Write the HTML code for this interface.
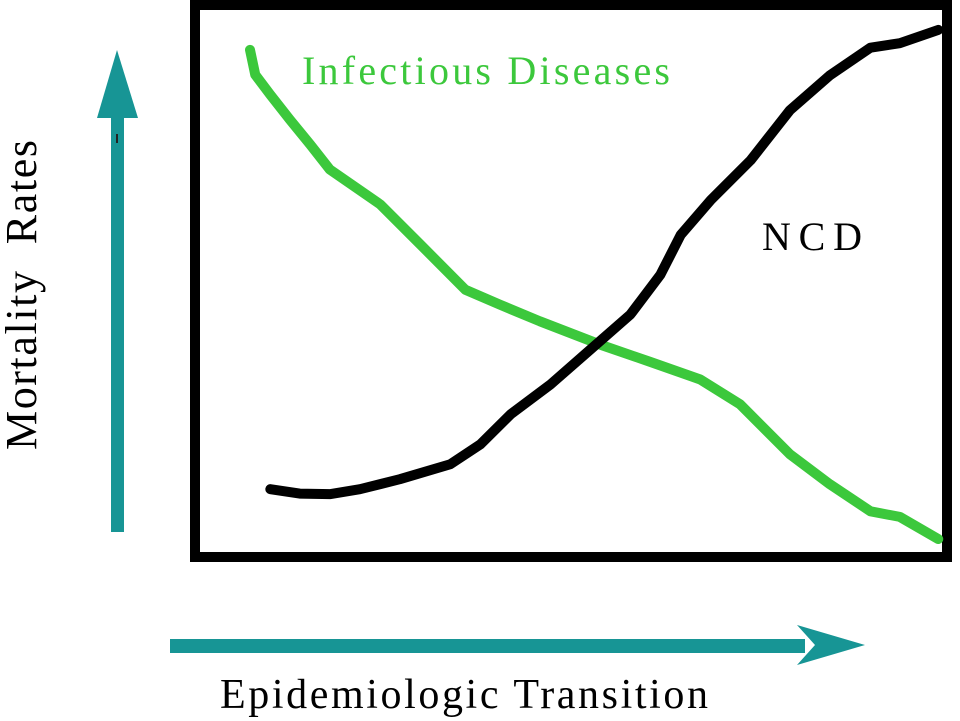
<!DOCTYPE html>
<html><head><meta charset="utf-8"><style>
html,body{margin:0;padding:0;background:#fff;width:960px;height:721px;overflow:hidden}
svg{display:block}
text{font-family:"Liberation Serif",serif}
</style></head><body>
<svg id="chart" width="960" height="721" viewBox="0 0 960 721">
<rect x="195" y="5" width="752" height="552" fill="none" stroke="#000" stroke-width="10"/>
<g>
<rect x="111" y="110" width="13" height="422" fill="#179595"/>
<polygon points="117,50 138,118 97,118" fill="#179595"/>
<line x1="117" y1="134" x2="117" y2="143" stroke="#222" stroke-width="2"/>
</g>
<g>
<rect x="170" y="639" width="635" height="14" fill="#179595"/>
<polygon points="865,645 797,625 815,645 797,665" fill="#179595"/>
</g>
<text x="36" y="450" font-size="44" transform="rotate(-90 36 450)" textLength="310">Mortality&#160; Rates</text>
<text x="220" y="708" font-size="42" textLength="488">Epidemiologic Transition</text>
<text x="302" y="84" font-size="40" fill="#3cc83c" textLength="368">Infectious Diseases</text>
<text x="762" y="250" font-size="40" fill="#000" textLength="100">NCD</text>
<g id="series"></g>
</svg>
<script>
// x positions in "transition progress" units (0-100), y in mortality units (0-100)
const infX = [0, 0.7, 2.7, 5.3, 8, 10.6, 17.3, 22.6, 28.6, 33.2, 38.5, 46.5, 53.1, 59.8, 65.1, 71.7, 77, 82.4, 86.3, 91.4];
const infY = [91, 86.5, 82.9, 78.4, 73.9, 69.4, 63.1, 55.9, 47.7, 45, 42, 37.8, 34.7, 31.5, 27, 18, 12.6, 7.7, 6.7, 2.7];
const ncdX = [2.7, 6.6, 10.6, 14.6, 19.9, 26.6, 30.6, 34.6, 39.9, 45.2, 50.5, 54.5, 57.2, 61.2, 66.5, 71.7, 77, 82.4, 86.3, 91.4];
const ncdY = [11.7, 10.9, 10.8, 11.7, 13.5, 16.2, 19.8, 25.2, 30.6, 36.9, 43.2, 50.4, 57.6, 63.9, 71.1, 80.1, 86.4, 91.4, 92.2, 94.6];
function sx(v){ return 250 + v * 7.53; }
function sy(v){ return 554 - v * 5.54; }
const g = document.getElementById('series');
function draw(xs, ys, color, name){
  const p = document.createElementNS('http://www.w3.org/2000/svg','polyline');
  p.setAttribute('points', xs.map((x,i)=>sx(x)+','+sy(ys[i])).join(' '));
  p.setAttribute('fill','none');
  p.setAttribute('stroke',color);
  p.setAttribute('stroke-width','10');
  p.setAttribute('stroke-linecap','round');
  p.setAttribute('stroke-linejoin','round');
  
  
  g.appendChild(p);
}
draw(infX, infY, '#3cc83c', 'infectious-diseases-line');
draw(ncdX, ncdY, '#000000', 'ncd-line');
</script>
</body></html>
